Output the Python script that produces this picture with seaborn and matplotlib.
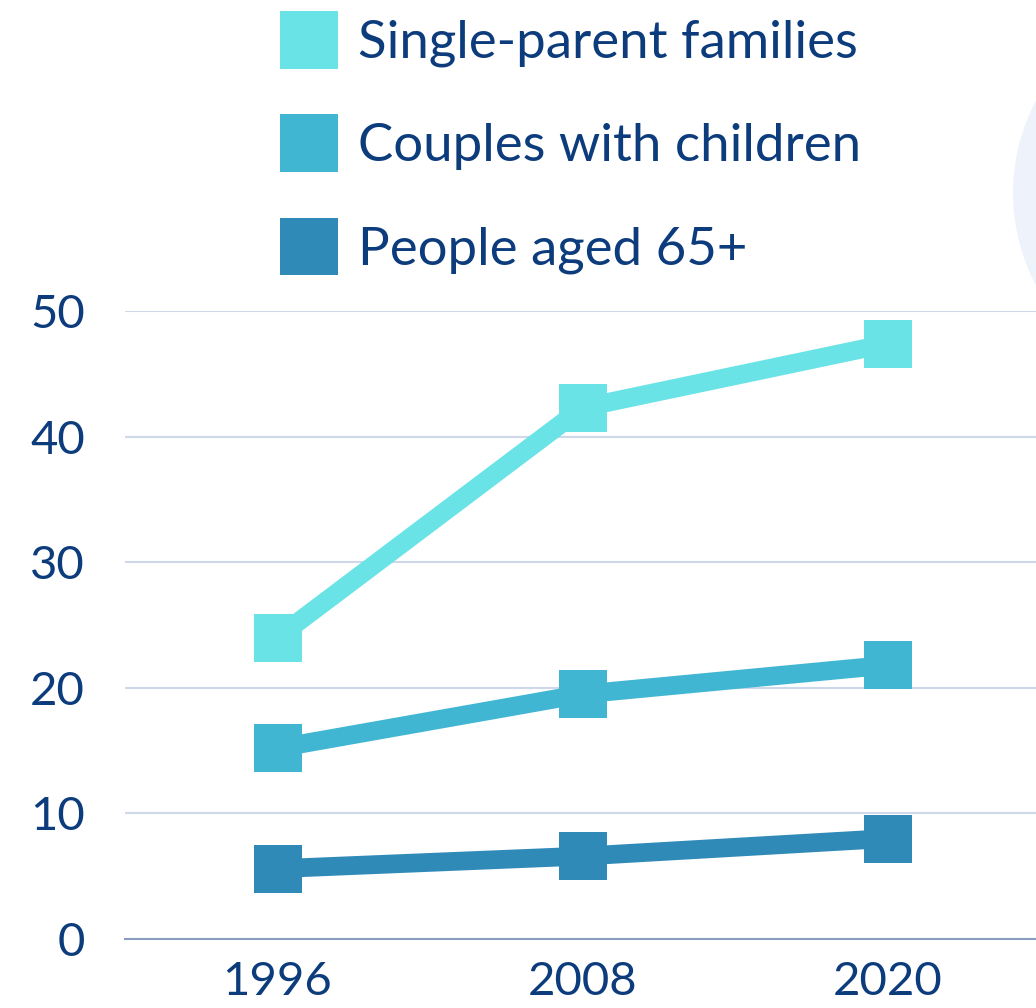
import matplotlib
matplotlib.use("Agg")
import matplotlib.pyplot as plt
from matplotlib.patches import Patch, Circle
import seaborn as sns
import pandas as pd

years = [1996, 2008, 2020]
single_parent = [24.0, 42.3, 47.4]
couples = [15.2, 19.5, 21.8]
aged_65 = [5.6, 6.6, 8.0]
series_names = ["Single-parent families", "Couples with children", "People aged 65+"]
colors = ["#6ae3e6", "#41b6d3", "#2f8ab8"]
text_color = "#0d3c7d"

df = pd.DataFrame({
    "year": years * 3,
    "value": single_parent + couples + aged_65,
    "series": [series_names[0]] * 3 + [series_names[1]] * 3 + [series_names[2]] * 3,
})

sns.set_style("white")
plt.rcParams["font.family"] = ["Lato", "DejaVu Sans"]

fig = plt.figure(figsize=(10.36, 10.08), dpi=100)
# light decorative circle at the right edge
fig.patches.append(Circle((1221 / 1036, 1 - 193 / 1008), 208 / 1036,
                          transform=fig.transFigure, facecolor="#eef3fb",
                          edgecolor="none", zorder=0))
ax = fig.add_axes([125 / 1036, 69 / 1008, 915 / 1036, 628 / 1008])
ax.patch.set_alpha(0)

sns.lineplot(data=df, x="year", y="value", hue="series", palette=colors,
             marker="s", markersize=35, markeredgewidth=0, linewidth=13.5,
             legend=False, ax=ax, zorder=3, clip_on=False)

ax.set_xlim(1990, 2026)
ax.set_ylim(0, 50)
ax.set_xticks(years)
ax.set_yticks(range(0, 51, 10))
ax.set_xlabel("")
ax.set_ylabel("")
ax.grid(axis="y", color="#cfd8e8", linewidth=1.5)
ax.set_axisbelow(True)
for side in ["left", "right", "top"]:
    ax.spines[side].set_visible(False)
ax.spines["bottom"].set_color("#8a9cc0")
ax.spines["bottom"].set_linewidth(1.5)
ax.tick_params(axis="y", length=0, pad=29, labelsize=34, labelcolor=text_color)
ax.tick_params(axis="x", length=0, pad=16, labelsize=34, labelcolor=text_color)

handles = [Patch(facecolor=c, edgecolor="none") for c in colors]
leg = fig.legend(handles, series_names, loc="upper left",
                 bbox_to_anchor=(280 / 1036, 1 - 11 / 1008),
                 frameon=False, fontsize=38, handlelength=1.1, handleheight=1.3,
                 handletextpad=0.38, labelspacing=0.87, borderaxespad=0,
                 borderpad=0)
for t in leg.get_texts():
    t.set_color(text_color)

fig.savefig("out.png", dpi=100)
